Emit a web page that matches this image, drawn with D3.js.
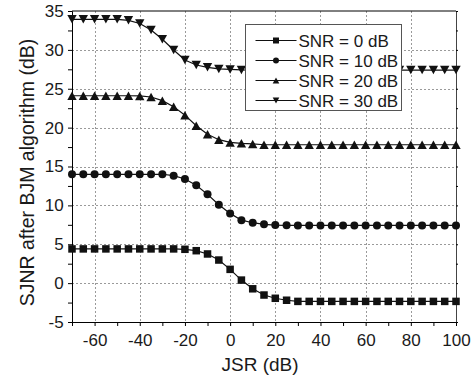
<!DOCTYPE html>
<html>
<head>
<meta charset="utf-8">
<script src="https://cdn.jsdelivr.net/npm/d3@7"></script>
<style>
  body { margin: 0; background: #fff; }
  text { font-family: "Liberation Sans", Arial, sans-serif; fill: #1a1a1a; }
</style>
</head>
<body>
<div id="chart"></div>
<script>
// JSR (dB) on the x axis
const jsr = [-70,-65,-60,-55,-50,-45,-40,-35,-30,-25,-20,-15,-10,-5,0,5,10,15,20,25,30,35,40,45,50,55,60,65,70,75,80,85,90,95,100]

// SJNR after BJM (dB), one array per SNR
const snr0 = [4.4,4.4,4.4,4.4,4.4,4.4,4.4,4.4,4.4,4.4,4.35,4.17,3.75,2.97,1.77,0.39,-0.73,-1.53,-1.95,-2.2,
  -2.35,-2.35,-2.35,-2.35,-2.35,-2.35,-2.35,-2.35,-2.35,-2.35,-2.35,-2.35,-2.35,-2.35,-2.35]
const snr10 = [14,14,14,14,14,14,14,14,14,13.82,13.4,12.58,11.42,10.08,8.97,8.1,7.77,7.56,7.47,7.43,
  7.42,7.42,7.42,7.42,7.42,7.42,7.42,7.42,7.42,7.42,7.42,7.42,7.42,7.42,7.42]
const snr20 = [24.1,24.1,24.1,24.1,24.1,24.1,24.08,23.94,23.47,22.7,21.6,20.25,19.14,18.45,18.1,17.98,17.9,
  17.8,17.8,17.8,17.8,17.8,17.8,17.8,17.8,17.8,17.8,17.8,17.8,17.8,17.8,17.8,17.8,17.8,17.8]
const snr30 = [33.93,33.93,33.93,33.93,33.93,33.8,33.4,32.56,31.36,29.98,28.7,28.05,27.76,27.55,27.48,27.42,
  27.4,27.4,27.4,27.4,27.4,27.4,27.4,27.4,27.4,27.4,27.4,27.4,27.4,27.4,27.4,27.4,27.4,27.4,27.4]

const seriesNames = ['SNR = 0 dB', 'SNR = 10 dB', 'SNR = 20 dB', 'SNR = 30 dB']
const seriesMarks = ['square', 'circle', 'up', 'down']
const xTicks = [-60,-40,-20,0,20,40,60,80,100]
const yTicks = [-5,0,5,10,15,20,25,30,35]

const width = 476, height = 381
const margin = {top: 11, right: 20, bottom: 59, left: 72}

const svg = d3.select('#chart').append('svg')
  .attr('width', width)
  .attr('height', height)

const x = d3.scaleLinear().domain([-70, 100]).range([margin.left, width - margin.right])
const y = d3.scaleLinear().domain([-5, 35]).range([height - margin.bottom, margin.top])

// grid
const grid = svg.append('g')
  .attr('stroke', '#9a9a9a')
  .attr('stroke-width', 1)
  .attr('stroke-dasharray', '2,2')
grid.selectAll('.gx').data(xTicks.filter(d => d > -70 && d < 100)).join('line')
  .attr('x1', d => Math.round(x(d)) + 0.5).attr('x2', d => Math.round(x(d)) + 0.5)
  .attr('y1', y(35)).attr('y2', y(-5))
grid.selectAll('.gy').data(yTicks.filter(d => d > -5 && d < 35)).join('line')
  .attr('y1', d => Math.round(y(d)) + 0.5).attr('y2', d => Math.round(y(d)) + 0.5)
  .attr('x1', x(-70)).attr('x2', x(100))

// axes
const xMinor = d3.range(-70, 101, 10)
const yMinor = d3.range(-5, 35.1, 2.5)

const xAxis = d3.axisBottom(x).tickValues(xMinor).tickSize(4)
  .tickFormat(d => xTicks.includes(d) ? d : '')
const yAxis = d3.axisLeft(y).tickValues(yMinor).tickSize(4)
  .tickFormat(d => yTicks.includes(d) ? d : '')

const gx = svg.append('g')
  .attr('transform', `translate(0,${y(-5)})`)
  .call(xAxis)
const gy = svg.append('g')
  .attr('transform', `translate(${x(-70)},0)`)
  .call(yAxis)
svg.append('g')
  .attr('transform', `translate(${x(100)},0)`)
  .call(d3.axisRight(y).tickValues(yMinor).tickSize(2).tickFormat(''))
  .call(g => g.select('.domain').attr('stroke', '#444'))
svg.append('line')
  .attr('x1', x(-70)).attr('x2', x(100))
  .attr('y1', y(35)).attr('y2', y(35))
  .attr('stroke', '#000')

for (const g of [gx, gy]) {
  g.selectAll('text').style('font-size', '17px').attr('fill', '#1a1a1a')
  g.selectAll('.domain').attr('stroke', '#000')
}
gx.selectAll('text').attr('dy', '0.98em')
gy.selectAll('text').attr('dx', '-0.08em')

// axis titles
svg.append('text')
  .attr('x', (x(-70) + x(100)) / 2 - 4)
  .attr('y', 371)
  .attr('text-anchor', 'middle')
  .style('font-size', '19px')
  .text('JSR (dB)')
svg.append('text')
  .attr('transform', `translate(34,${(y(35) + y(-5)) / 2 + 6}) rotate(-90)`)
  .attr('text-anchor', 'middle')
  .style('font-size', '19.5px')
  .text('SJNR after BJM algorithm (dB)')

// markers
function markPath (kind, s) {
  const h = s / 2
  if (kind === 'square') return `M${-h},${-h}H${h}V${h}H${-h}Z`
  if (kind === 'up') return `M0,${-h}L${h * 1.1},${h}L${-h * 1.1},${h}Z`
  if (kind === 'down') return `M0,${h}L${h * 1.1},${-h}L${-h * 1.1},${-h}Z`
  return d3.symbol(d3.symbolCircle, s * s * Math.PI / 4)()
}

const allSeries = [snr0, snr10, snr20, snr30]
const markSize = {square: 7.5, circle: 8, up: 8.5, down: 8.5}
const line = d3.line().x((d, i) => x(jsr[i])).y(d => y(d))

const plot = svg.append('g')
allSeries.forEach((vals, k) => {
  plot.append('path')
    .attr('d', line(vals))
    .attr('fill', 'none')
    .attr('stroke', '#111')
    .attr('stroke-width', 1.2)
  plot.selectAll(null).data(vals).join('path')
    .attr('transform', (d, i) => `translate(${x(jsr[i])},${y(d)})`)
    .attr('d', markPath(seriesMarks[k], markSize[seriesMarks[k]]))
    .attr('fill', '#111')
})

// legend
const lg = svg.append('g').attr('transform', 'translate(245.5,24.5)')
lg.append('rect')
  .attr('width', 156).attr('height', 86)
  .attr('fill', '#fff')
  .attr('stroke', '#555')
seriesNames.forEach((name, k) => {
  const ry = 16 + k * 20
  lg.append('line')
    .attr('x1', 10).attr('x2', 51)
    .attr('y1', ry).attr('y2', ry)
    .attr('stroke', '#111').attr('stroke-width', 1.2)
  lg.append('path')
    .attr('transform', `translate(30.5,${ry})`)
    .attr('d', markPath(seriesMarks[k], 6))
    .attr('fill', '#111')
  lg.append('text')
    .attr('x', 53).attr('y', ry)
    .attr('dy', '0.36em')
    .style('font-size', '17px')
    .text(name)
})
</script>
</body>
</html>
